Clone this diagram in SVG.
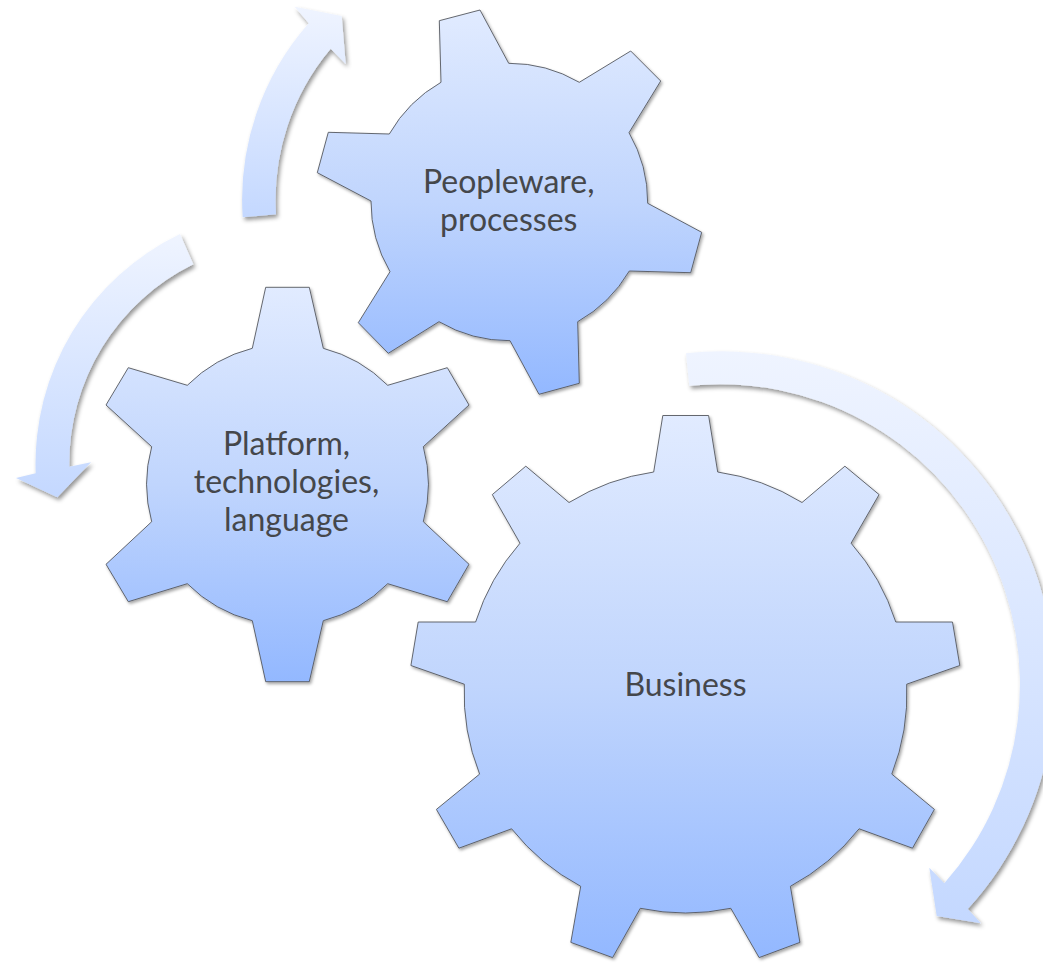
<svg xmlns="http://www.w3.org/2000/svg" width="1043" height="964" viewBox="0 0 1043 964">
<style>
.gear{fill:url(#gg);stroke:#55585f;stroke-width:.9;stroke-linejoin:miter;filter:url(#sh)}
.arrow{fill:url(#ag);filter:url(#sa)}
.lbl{font-family:"Lato","Open Sans","Liberation Sans",sans-serif;font-size:32px;fill:#45474b;text-anchor:middle}
</style>
<defs>
<linearGradient id="gg" x1="0" y1="0" x2="0" y2="1"><stop offset="0" stop-color="#e1ebff"/><stop offset=".5" stop-color="#c0d5fd"/><stop offset="1" stop-color="#93b8ff"/></linearGradient>
<linearGradient id="ag" x1="0" y1="0" x2="0" y2="1"><stop offset="0" stop-color="#eff4ff"/><stop offset="1" stop-color="#c4d8ff"/></linearGradient>
<filter id="sh" x="-10%" y="-10%" width="120%" height="120%"><feDropShadow dx="1.5" dy="2" stdDeviation="1.8" flood-color="#000" flood-opacity=".35"/></filter>
<filter id="sa" x="-10%" y="-10%" width="120%" height="120%"><feDropShadow dx="2" dy="3" stdDeviation="2.2" flood-color="#000" flood-opacity=".42"/></filter>
</defs>
<rect width="1043" height="964" fill="#fff"/>
<g id="connectors">
<path class="arrow" d="M242.7 217.3A267 267 0 0 1 308.7 23.3L294.7 6.7L341.7 16L345.7 64L330.7 48.7A234.5 234.5 0 0 0 276 214.3Z"/>
<path class="arrow" d="M180 234A255 255 0 0 0 35.7 473.3L16 478L57.3 497.3L91 462.3L69.3 466.7A222 222 0 0 1 193.3 264.3Z"/>
<path class="arrow" d="M686 353.3A333 333 0 0 1 967.7 909L981 923.3L936.7 916L929.3 867.7L944.3 883.3A300 300 0 0 0 689.3 385.7Z"/>
</g>
<g id="gear-peopleware">
<path class="gear" d="M439.3 20.7L480 10L508.7 63.3A139 139 0 0 1 579.3 82.3L630.7 51L660.7 81L629 132.7A139 139 0 0 1 647.7 203.3L701.7 232.3L690.7 272.7L629.3 271A139 139 0 0 1 577.7 321.7L579.3 383.3L539 394.3L510 340.7A139 139 0 0 1 439 321.7L388.3 353.3L358.3 322.7L390 271.7A139 139 0 0 1 371 201L317.3 172.7L328.3 132.3L389.3 134A139 139 0 0 1 441 82.3Z"/>
<text class="lbl" x="508.7" y="193">Peopleware,</text>
<text class="lbl" x="508.7" y="231">processes</text>
</g>
<g id="gear-platform">
<path class="gear" d="M265.7 287.3L309.3 287.3L323.3 348.3A141 141 0 0 1 387.7 385.3L447.3 367.7L469 405L423.3 446.7A141 141 0 0 1 423.3 521.7L469 564.3L447.3 601.7L387.7 583.7A141 141 0 0 1 323.3 620.7L309.3 681.7L265.7 681.7L252.3 620.7A141 141 0 0 1 187.3 583.7L128.3 601.7L106 564.3L151.7 521.7A141 141 0 0 1 151.7 446.7L106 405L128.3 367.7L187.3 385.3A141 141 0 0 1 252.3 348.3Z"/>
<text class="lbl" x="286.5" y="455">Platform,</text>
<text class="lbl" x="286.5" y="493">technologies,</text>
<text class="lbl" x="286.5" y="531">language</text>
</g>
<g id="gear-business">
<path class="gear" d="M662.8 415.5L708.6 415.5L717.7 472A220.5 220.5 0 0 1 802 502.5L844.9 466.2L879.1 494.6L851.1 543.2A220.5 220.5 0 0 1 895.8 622L952.5 622L959.8 665.5L906.7 684.2A220.5 220.5 0 0 1 891.8 774.1L934.4 809.4L912.5 848.2L859.1 828.8A220.5 220.5 0 0 1 790.4 886.3L799.9 942.4L759.1 957.6L730.8 908.3A220.5 220.5 0 0 1 640.3 908.3L612.6 957.6L570.8 942.4L580.7 886.3A220.5 220.5 0 0 1 511.6 828.8L458.9 848.2L436.4 809.4L479.6 774.1A220.5 220.5 0 0 1 464.3 684.2L410.9 665.5L418.2 622L475.6 622A220.5 220.5 0 0 1 520 543.2L492.3 494.6L525.8 466.2L569 502.5A220.5 220.5 0 0 1 653.7 472Z"/>
<text class="lbl" x="685.5" y="696">Business</text>
</g>
</svg>
